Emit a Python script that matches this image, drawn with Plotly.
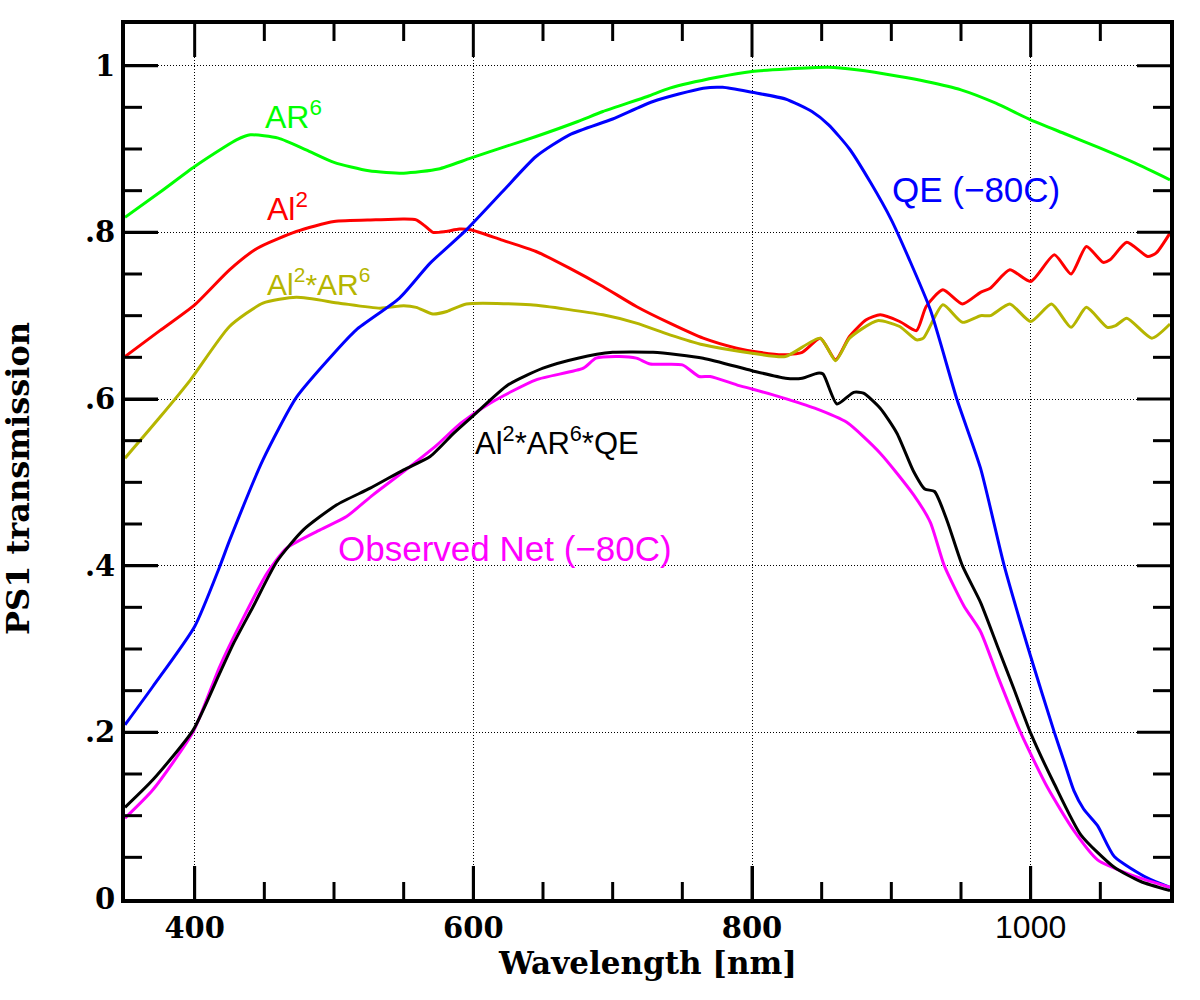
import plotly.graph_objects as go

# ---------------- data ----------------
wl_ar6 = [350, 375, 400, 420, 430, 440, 460, 480, 500, 525, 550, 575, 598, 625, 645, 675, 693,
          725, 741, 775, 800, 825, 855, 875, 906, 925, 950, 975, 1000, 1025, 1050, 1075, 1100]
ar6 = [0.818, 0.848, 0.879, 0.901, 0.911, 0.917, 0.913, 0.899, 0.884, 0.874, 0.871, 0.876,
       0.889, 0.904, 0.915, 0.933, 0.945, 0.963, 0.973, 0.986, 0.993, 0.996, 0.998, 0.995,
       0.987, 0.981, 0.971, 0.955, 0.935, 0.918, 0.901, 0.883, 0.863]

wl_al2 = [350, 375, 400, 425, 445, 473, 500, 530, 550, 559, 565, 571, 580, 590, 598, 620,
          645, 669, 693, 717, 741, 765, 789, 805, 822, 836, 849, 860, 870, 882, 892, 906,
          918, 925, 937, 951, 964, 971, 985, 1000, 1017, 1029, 1040, 1052, 1057, 1069,
          1084, 1090, 1100]
al2 = [0.651, 0.682, 0.713, 0.755, 0.781, 0.801, 0.813, 0.815, 0.816, 0.815, 0.808, 0.800,
       0.801, 0.804, 0.803, 0.791, 0.777, 0.757, 0.735, 0.711, 0.691, 0.673, 0.661, 0.656,
       0.653, 0.656, 0.673, 0.647, 0.675, 0.695, 0.701, 0.693, 0.682, 0.711, 0.731, 0.714,
       0.728, 0.733, 0.755, 0.741, 0.773, 0.750, 0.783, 0.764, 0.767, 0.788, 0.771, 0.775,
       0.799]

wl_al2ar6 = [350, 375, 397, 425, 449, 473, 504, 533, 550, 559, 571, 581, 595, 641, 693, 717,
             741, 765, 800, 824, 849, 860, 870, 890, 906, 918, 923, 937, 951, 964, 971, 985,
             1000, 1015, 1029, 1040, 1055, 1061, 1069, 1087, 1100]
al2ar6 = [0.529, 0.578, 0.623, 0.687, 0.715, 0.722, 0.715, 0.709, 0.712, 0.710, 0.702, 0.705,
          0.714, 0.713, 0.701, 0.691, 0.677, 0.665, 0.655, 0.651, 0.673, 0.646, 0.673, 0.694,
          0.687, 0.671, 0.673, 0.713, 0.692, 0.700, 0.700, 0.714, 0.693, 0.714, 0.686, 0.710,
          0.686, 0.688, 0.697, 0.673, 0.690]

wl_qe = [350, 370, 400, 418, 425, 449, 473, 500, 516, 547, 569, 595, 621, 645, 669, 700,
         729, 765, 779, 800, 824, 843, 855, 870, 885, 900, 913, 928, 947, 964, 981, 1000,
         1017, 1024, 1031, 1038, 1048, 1060, 1084, 1100]
qe = [0.209, 0.255, 0.327, 0.399, 0.430, 0.527, 0.602, 0.655, 0.683, 0.721, 0.763, 0.803,
      0.849, 0.891, 0.917, 0.936, 0.957, 0.973, 0.974, 0.968, 0.960, 0.945, 0.929, 0.900,
      0.860, 0.815, 0.767, 0.707, 0.600, 0.517, 0.400, 0.291, 0.200, 0.165, 0.130, 0.108,
      0.088, 0.051, 0.025, 0.014]

wl_prod = [350, 370, 399, 418, 428, 442, 459, 478, 502, 526, 550, 569, 586, 600, 625, 650,
           675, 700, 729, 765, 800, 824, 836, 847, 851, 861, 873, 880, 892, 904, 916, 924, 931,
           940, 951, 964, 976, 988, 1000, 1017, 1036, 1060, 1079, 1100]
prod = [0.110, 0.143, 0.203, 0.271, 0.307, 0.351, 0.405, 0.443, 0.473, 0.493, 0.515, 0.531,
        0.559, 0.580, 0.617, 0.637, 0.649, 0.656, 0.656, 0.649, 0.634, 0.625, 0.625, 0.631,
        0.630, 0.594, 0.608, 0.607, 0.589, 0.559, 0.513, 0.492, 0.489, 0.454, 0.400, 0.356,
        0.304, 0.252, 0.199, 0.138, 0.077, 0.038, 0.021, 0.010]

wl_obs = [350, 370, 399, 418, 433, 452, 466, 490, 509, 528, 550, 574, 591, 612, 645, 679,
          688, 705, 717, 727, 750, 762, 770, 789, 800, 821, 845, 868, 892, 916, 928, 938,
          952, 964, 976, 993, 1012, 1031, 1048, 1072, 1100]
obs = [0.097, 0.131, 0.201, 0.279, 0.331, 0.391, 0.421, 0.443, 0.459, 0.485, 0.513, 0.545,
       0.571, 0.595, 0.623, 0.637, 0.649, 0.651, 0.649, 0.642, 0.641, 0.627, 0.627, 0.617,
       0.612, 0.602, 0.589, 0.572, 0.535, 0.485, 0.452, 0.400, 0.352, 0.321, 0.269, 0.199,
       0.134, 0.082, 0.047, 0.029, 0.014]

x_range = [350, 1100]
y_range = [0, 1.05]
x_major = [400, 600, 800, 1000]
x_minor = [450, 500, 550, 650, 700, 750, 850, 900, 950, 1050]
y_major = [0.2, 0.4, 0.6, 0.8, 1.0]
y_minor = [0.05, 0.1, 0.15, 0.25, 0.3, 0.35, 0.45, 0.5, 0.55, 0.65, 0.7, 0.75, 0.85, 0.9, 0.95]

# tick label aliases (major ticks every 200 nm / 0.2)
x_labelalias = {"1000": '<span style="font-family:Liberation Sans;font-weight:normal;font-size:32px">1000</span>'}
y_labelalias = {"0.2": ".2", "0.4": ".4", "0.6": ".6", "0.8": ".8"}

labels = [
    ("AR<sup>6</sup>", 449.0, 0.941, "#00ff00", 32),
    ("Al<sup>2</sup>", 450.4, 0.831, "#ff0000", 32),
    ("Al<sup>2</sup>*AR<sup>6</sup>", 450.4, 0.740, "#b5b500", 30),
    ("QE (\u221280C)", 899.1, 0.852, "#0000ff", 35),
    ("Al<sup>2</sup>*AR<sup>6</sup>*QE", 599.8, 0.550, "#000000", 31),
    ("Observed Net (\u221280C)", 501.4, 0.421, "#ff00ff", 35),
]

# layout geometry
W, H = 1200, 1000
ML, MR, MT, MB = 125, 30, 24, 101
plot_w = W - ML - MR
plot_h = H - MT - MB
nm_per_px = (x_range[1] - x_range[0]) / plot_w
val_per_px = (y_range[1] - y_range[0]) / plot_h

# ---------------- figure ----------------
fig = go.Figure()
series = [
    (wl_ar6, ar6, "#00ff00"),
    (wl_al2, al2, "#ff0000"),
    (wl_al2ar6, al2ar6, "#b5b500"),
    (wl_qe, qe, "#0000ff"),
    (wl_obs, obs, "#ff00ff"),
    (wl_prod, prod, "#000000"),
]
for xs, ys, col in series:
    fig.add_trace(go.Scatter(x=xs, y=ys, mode="lines",
                             line=dict(color=col, width=3, shape="spline", smoothing=0.6),
                             showlegend=False, hoverinfo="skip"))

# inside tick marks on all four sides, built from the tick values and the axis scales
tx, ty = [], []
for vals, length_px in ((x_major, 33), (x_minor, 17)):
    dy = length_px * val_per_px
    for v in vals:
        tx += [v, v, None, v, v, None]
        ty += [y_range[0], y_range[0] + dy, None, y_range[1], y_range[1] - dy, None]
for vals, length_px in ((y_major, 33), (y_minor, 17)):
    dx = length_px * nm_per_px
    for v in vals:
        tx += [x_range[0], x_range[0] + dx, None, x_range[1], x_range[1] - dx, None]
        ty += [v, v, None, v, v, None]
fig.add_trace(go.Scatter(x=tx, y=ty, mode="lines", line=dict(color="black", width=3),
                         connectgaps=False, showlegend=False, hoverinfo="skip"))

for txt, xx, yy, col, sz in labels:
    fig.add_annotation(x=xx, y=yy, xref="x", yref="y", text=txt, showarrow=False,
                       xanchor="left", yanchor="middle",
                       font=dict(family="Liberation Sans, Arial, sans-serif", size=sz, color=col))

# axis titles
fig.add_annotation(x=0.5, y=-0.073, xref="paper", yref="paper", text="Wavelength [nm]",
                   showarrow=False, xanchor="center", yanchor="middle",
                   font=dict(family="DejaVu Serif", size=31, color="black", weight="bold"))
fig.add_annotation(x=-0.1025, y=0.481, xref="paper", yref="paper", text="PS1 transmission",
                   showarrow=False, xanchor="center", yanchor="middle", textangle=-90,
                   font=dict(family="DejaVu Serif", size=32, color="black", weight="bold"))

tick_font = dict(family="DejaVu Serif", size=29, color="black", weight="bold")

fig.update_layout(
    width=W, height=H,
    margin=dict(l=ML, r=MR, t=MT, b=MB, autoexpand=False),
    plot_bgcolor="white", paper_bgcolor="white",
    xaxis=dict(range=x_range, tickmode="linear", tick0=0, dtick=200, labelalias=x_labelalias,
               tickfont=tick_font, showline=True, linewidth=4, linecolor="black", mirror=True,
               zeroline=False, ticks="inside", ticklen=33, tickwidth=3, tickcolor="black",
               showgrid=True, gridcolor="black", gridwidth=1, griddash="1px,2px"),
    yaxis=dict(range=y_range, tickmode="linear", tick0=0, dtick=0.2, labelalias=y_labelalias,
               tickfont=tick_font, showline=True, linewidth=4, linecolor="black", mirror=True,
               zeroline=False, ticks="inside", ticklen=33, tickwidth=3, tickcolor="black",
               showgrid=True, gridcolor="black", gridwidth=1, griddash="1px,2px"),
)

fig.write_html("out.html")
